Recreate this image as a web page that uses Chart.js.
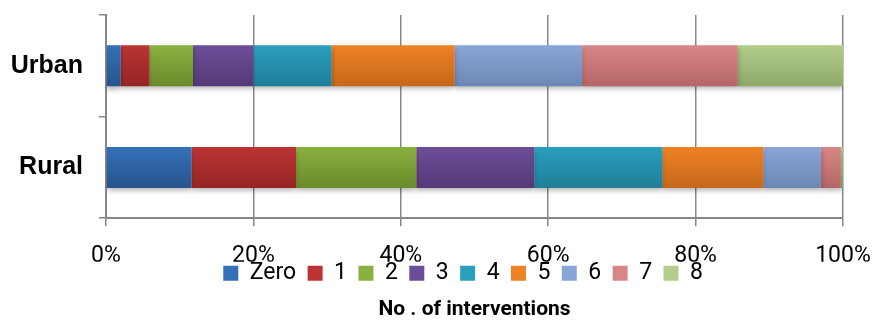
<!DOCTYPE html>
<html>
<head>
<meta charset="utf-8">
<script src="https://cdn.jsdelivr.net/npm/chart.js@4.4.1/dist/chart.umd.min.js"></script>
<style>
  html, body { margin: 0; padding: 0; background: #fff; }
  #wrap { width: 875px; height: 323px; }
</style>
</head>
<body>
<div id="wrap"><canvas id="c" width="875" height="323"></canvas></div>
<script>
const categories = ['Urban', 'Rural'];
const seriesNames = ['Zero', '1', '2', '3', '4', '5', '6', '7', '8'];
const zeroVals  = [2.0, 11.6];
const oneVals   = [3.9, 14.2];
const twoVals   = [5.9, 16.3];
const threeVals = [8.2, 16.0];
const fourVals  = [10.6, 17.4];
const fiveVals  = [16.7, 13.7];
const sixVals   = [17.3, 7.8];
const sevenVals = [21.1, 2.7];
const eightVals = [14.3, 0.3];
const xTicks = [0, 20, 40, 60, 80, 100];

const seriesValues = [zeroVals, oneVals, twoVals, threeVals, fourVals, fiveVals, sixVals, sevenVals, eightVals];
const topColors    = ['#3571b8', '#bb3433', '#89b13f', '#6c4e98', '#2a9fbd', '#ee8224', '#89a6d8', '#d88787', '#b2cc8a'];
const bottomColors = ['#26548c', '#942524', '#6a8b2d', '#553977', '#1f7e98', '#c6671a', '#6a87b4', '#b46565', '#8fa969'];
const BAR_PCT = 0.404;

const X_TICK_LEN = 8;
const X_TICK_PAD = 24.5;
const X_TICK_FONT = 23;
const X_TICK_LH = 0.478;

function barGradient(ctx, i) {
  const chart = ctx.chart;
  const area = chart.chartArea;
  const y = chart.scales.y;
  if (!area || !y) return topColors[i];
  const g = chart.ctx.createLinearGradient(0, area.top, 0, area.bottom);
  const H = area.bottom - area.top;
  const half = (H / categories.length) * BAR_PCT / 2;
  categories.forEach((c, k) => {
    const center = y.getPixelForValue(k);
    const a = Math.min(1, Math.max(0, (center - half - area.top) / H));
    const b = Math.min(1, Math.max(0, (center + half - area.top) / H));
    g.addColorStop(a, topColors[i]);
    g.addColorStop(b, bottomColors[i]);
  });
  return g;
}

const datasets = seriesNames.map((name, i) => ({
  label: name,
  data: seriesValues[i],
  backgroundColor: (ctx) => barGradient(ctx, i),
  borderWidth: 0,
  categoryPercentage: 1.0,
  barPercentage: BAR_PCT
}));

const shadowPlugin = {
  id: 'barShadow',
  beforeDatasetsDraw(chart) {
    const c = chart.ctx;
    c.save();
    c.shadowColor = 'rgba(0,0,0,0.30)';
    c.shadowBlur = 5;
    c.shadowOffsetX = 0;
    c.shadowOffsetY = 3;
  },
  afterDatasetsDraw(chart) {
    chart.ctx.restore();
  }
};

new Chart(document.getElementById('c'), {
  type: 'bar',
  data: { labels: categories, datasets },
  plugins: [shadowPlugin],
  options: {
    indexAxis: 'y',
    responsive: false,
    animation: false,
    layout: { padding: { top: 15, right: 32, bottom: 0, left: 0 } },
    scales: {
      x: {
        stacked: true,
        min: 0, max: 100,
        afterBuildTicks: (axis) => { axis.ticks = xTicks.map(v => ({ value: v })); },
        afterFit: (scale) => {
          scale.paddingLeft = 0; scale.paddingRight = 0;
          scale.height = X_TICK_LEN + X_TICK_PAD + X_TICK_FONT * X_TICK_LH;
        },
        grid: { color: '#878787', lineWidth: 1.5, tickLength: X_TICK_LEN, drawOnChartArea: true },
        border: { color: '#878787', width: 2 },
        ticks: {
          padding: X_TICK_PAD,
          color: '#000',
          font: { family: 'Roboto', size: X_TICK_FONT, lineHeight: X_TICK_LH },
          callback: (v) => v + '%'
        }
      },
      y: {
        stacked: true,
        offset: true,
        afterFit: (scale) => { scale.width = 106; scale.paddingTop = 0; scale.paddingBottom = 0; },
        grid: { offset: true, drawOnChartArea: false, color: '#878787', lineWidth: 1.5, tickLength: 7 },
        border: { color: '#878787', width: 2 },
        ticks: {
          padding: 16,
          color: '#000',
          font: { family: 'Liberation Sans', size: 25, weight: 'bold' }
        }
      }
    },
    plugins: {
      tooltip: { enabled: false },
      legend: {
        position: 'bottom',
        fullSize: false,
        labels: {
          boxWidth: 15,
          boxHeight: 15,
          padding: 0,
          color: '#000',
          font: { family: 'Roboto', size: 23 },
          generateLabels: (chart) => {
            const items = Chart.defaults.plugins.legend.labels.generateLabels(chart);
            return items.map((it, k) => {
              it.fillStyle = topColors[k];
              it.strokeStyle = topColors[k];
              it.lineWidth = 0;
              it.text = it.text + (k === items.length - 1 ? '    ' : '  ');
              return it;
            });
          }
        }
      },
      title: {
        display: true,
        position: 'bottom',
        fullSize: false,
        text: 'No . of interventions',
        color: '#000',
        padding: { top: 4.8, bottom: 2.5 },
        font: { family: 'Roboto', size: 21, weight: 'bold', lineHeight: 1.0 }
      }
    }
  }
});
</script>
</body>
</html>
